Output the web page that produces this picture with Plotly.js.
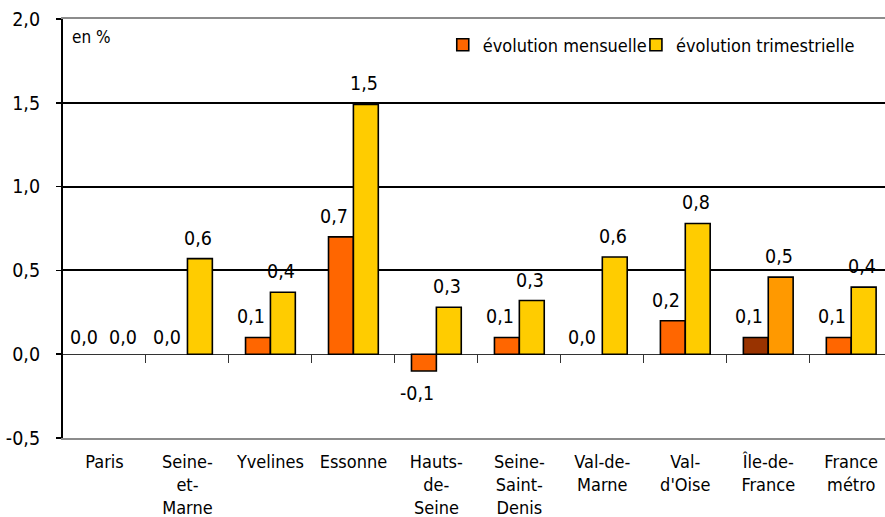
<!DOCTYPE html>
<html>
<head>
<meta charset="utf-8">
<script src="https://cdn.plot.ly/plotly-3.0.1.min.js"></script>
<style>
html,body{margin:0;padding:0;background:#fff;}
#chart{width:885px;height:517px;}
</style>
</head>
<body>
<div id="chart"></div>
<script>
var categories = ["Paris", "Seine-et-Marne", "Yvelines", "Essonne", "Hauts-de-Seine", "Seine-Saint-Denis", "Val-de-Marne", "Val-d'Oise", "Île-de-France", "France métro"];
var tickLabels = ["Paris", "Seine-<br>et-<br>Marne", "Yvelines", "Essonne", "Hauts-<br>de-<br>Seine", "Seine-<br>Saint-<br>Denis", "Val-de-<br>Marne", "Val-<br>d'Oise", "Île-de-<br>France", "France<br>métro"];
var mensuelle = [0.0, 0.0, 0.1, 0.7, -0.1, 0.1, 0.0, 0.2, 0.1, 0.1];
var trimestrielle = [0.0, 0.57, 0.37, 1.49, 0.28, 0.32, 0.58, 0.78, 0.46, 0.40];
var colorsMensuelle = ["#FF6600","#FF6600","#FF6600","#FF6600","#FF6600","#FF6600","#FF6600","#FF6600","#993300","#FF6600"];
var colorsTrimestrielle = ["#FFCC00","#FFCC00","#FFCC00","#FFCC00","#FFCC00","#FFCC00","#FFCC00","#FFCC00","#FF9900","#FFCC00"];
var seriesNames = ["évolution mensuelle", "évolution trimestrielle"];
var seriesColors = ["#FF6600", "#FFCC00"];
var yTickVals = [-0.5, 0.0, 0.5, 1.0, 1.5, 2.0];
var yTickText = ["-0,5", "0,0", "0,5", "1,0", "1,5", "2,0"];
var boundaryTicks = [0.5, 1.5, 2.5, 3.5, 4.5, 5.5, 6.5, 7.5, 8.5];

var FONT = "'DejaVu Sans Condensed', 'DejaVu Sans', sans-serif";
var TXT = '#000';
function fmt(v){ return (Math.round(v*10)/10).toFixed(1).replace('.', ','); }
function lineWidths(vals){ return vals.map(function(v){ return v === 0 ? 0 : 1.6; }); }

var traces = [
  {type:'bar', name:seriesNames[0], x:categories, y:mensuelle, showlegend:false,
   marker:{color:colorsMensuelle, line:{color:'#000', width:lineWidths(mensuelle)}}, hoverinfo:'none'},
  {type:'bar', name:seriesNames[1], x:categories, y:trimestrielle, showlegend:false,
   marker:{color:colorsTrimestrielle, line:{color:'#000', width:lineWidths(trimestrielle)}}, hoverinfo:'none'},
  /* legend entries only (no data drawn) */
  {type:'bar', name:seriesNames[0], x:[0], y:[null], xaxis:'x2', legend:'legend',
   marker:{color:seriesColors[0], line:{color:'#000', width:1.6}}, hoverinfo:'none'},
  {type:'bar', name:seriesNames[1], x:[0], y:[null], xaxis:'x2', legend:'legend2',
   marker:{color:seriesColors[1], line:{color:'#000', width:1.6}}, hoverinfo:'none'}
];

var annotations = [];
function addLabels(vals, xs, xsZero){
  vals.forEach(function(v, i){
    var neg = v < 0;
    annotations.push({
      x: categories[i], y: v, xref:'x', yref:'y', text: fmt(v), showarrow:false,
      xshift: v === 0 ? xsZero : xs, yshift: neg ? -9 : (v === 0 ? 3 : 7),
      yanchor: neg ? 'top' : 'bottom',
      font:{family:FONT, size:19.5, color:TXT}
    });
  });
}
addLabels(mensuelle, -19, -20);
addLabels(trimestrielle, 11, 19);
annotations.push({xref:'paper', yref:'paper', x:0.009, y:0.985, xanchor:'left', yanchor:'top',
  text:'en %', showarrow:false, font:{family:FONT, size:17, color:TXT}});

var legendBase = {orientation:'h', y:0.982, xanchor:'left', yanchor:'top',
  font:{family:FONT, size:18, color:TXT}, bgcolor:'rgba(0,0,0,0)'};

var layout = {
  width:885, height:517,
  margin:{l:63, r:0, t:19, b:79, pad:0},
  paper_bgcolor:'#fff', plot_bgcolor:'#fff',
  separators:', ',
  barmode:'group', bargap:0.4, bargroupgap:0,
  font:{family:FONT, size:18, color:TXT},
  showlegend:true,
  legend:Object.assign({x:0.462}, legendBase),
  legend2:Object.assign({x:0.697}, legendBase),
  xaxis:{type:'category', range:[-0.5, 9.407], tickvals:categories, ticktext:tickLabels,
         ticks:'', showline:true, linecolor:'#8c8c8c', linewidth:2, mirror:true,
         showgrid:false, zeroline:false, ticklabelstandoff:6, fixedrange:true,
         tickfont:{family:FONT, size:18, color:TXT}},
  xaxis2:{overlaying:'x', anchor:'free', position:0.2, range:[-0.5, 9.407], type:'linear',
          tickvals:boundaryTicks, ticks:'outside', ticklen:8, tickwidth:1, tickcolor:'#333',
          showticklabels:false, showline:false, showgrid:false, zeroline:false, side:'bottom'},
  yaxis:{range:[-0.5, 2.0], tickvals:yTickVals, ticktext:yTickText,
         showline:true, linecolor:'#000', linewidth:2,
         ticks:'outside', ticklen:5, tickwidth:1.5, tickcolor:'#000',
         showgrid:true, gridcolor:'#000', gridwidth:2,
         zeroline:true, zerolinecolor:'#333', zerolinewidth:1,
         ticklabelstandoff:12, fixedrange:true,
         tickfont:{family:FONT, size:19.5, color:TXT}},
  annotations:annotations
};

Plotly.newPlot('chart', traces, layout, {displayModeBar:false, staticPlot:true});
</script>
</body>
</html>
